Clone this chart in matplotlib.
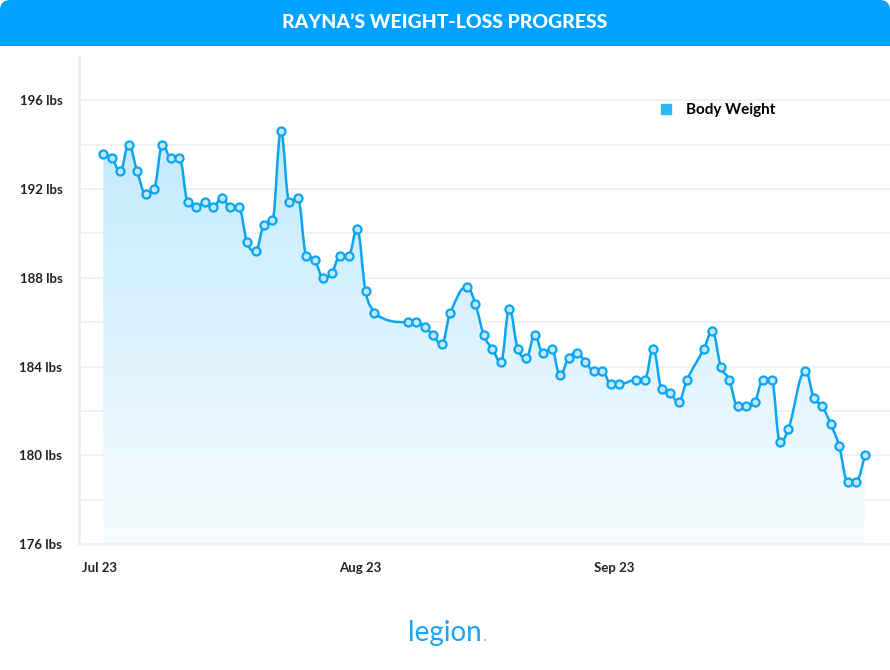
import numpy as np
import matplotlib.pyplot as plt
from matplotlib.path import Path
from matplotlib.patches import PathPatch, FancyBboxPatch, Rectangle
from matplotlib.lines import Line2D
from matplotlib.colors import to_rgba

# day index since first weigh-in, and the weight that day (lbs)
days = [0, 1, 2, 3, 4, 5, 6, 7, 8, 9, 10, 11, 12, 13, 14, 15, 16, 17, 18, 19,
        20, 21, 22, 23, 24, 25, 26, 27, 28, 29, 30, 31, 32,
        36, 37, 38, 39, 40, 41, 43, 44, 45, 46, 47, 48, 49, 50, 51, 52, 53,
        54, 55, 56, 57, 58, 59, 60, 61, 63, 64, 65, 66, 67, 68, 69, 71, 72,
        73, 74, 75, 76, 77, 78, 79, 80, 81, 83, 84, 85, 86, 87, 88, 89, 90]
weight = [193.6, 193.4, 192.8, 194.0, 192.8, 191.8, 192.0, 194.0, 193.4, 193.4,
          191.4, 191.2, 191.4, 191.2, 191.6, 191.2, 191.2, 189.6, 189.2, 190.4,
          190.6, 194.6, 191.4, 191.6, 189.0, 188.8, 188.0, 188.2, 189.0, 189.0,
          190.2, 187.4, 186.4,
          186.0, 186.0, 185.8, 185.4, 185.0, 186.4, 187.6, 186.8, 185.4, 184.8,
          184.2, 186.6, 184.8, 184.4, 185.4, 184.6, 184.8, 183.6, 184.4, 184.6,
          184.2, 183.8, 183.8, 183.2, 183.2, 183.4, 183.4, 184.8, 183.0, 182.8,
          182.4, 183.4, 184.8, 185.6, 184.0, 183.4, 182.2, 182.2, 182.4, 183.4,
          183.4, 180.6, 181.2, 183.8, 182.6, 182.2, 181.4, 180.4, 178.8, 178.8,
          180.0]

month_ticks = [-0.5, 30.4, 60.4]
month_labels = ['Jul 23', 'Aug 23', 'Sep 23']
y_labels = [176, 180, 184, 188, 192, 196]

BLUE = '#0aa4f2'
HEADER = '#00a2ff'


def spline_path(xs, ys, smoothing=1.5):
    # highcharts-style spline: cubic bezier through every point
    n = len(xs)
    lc = [(xs[i], ys[i]) for i in range(n)]
    rc = list(lc)
    den = smoothing + 1
    for i in range(1, n - 1):
        px, py = xs[i], ys[i]
        lx, ly = xs[i - 1], ys[i - 1]
        nx, ny = xs[i + 1], ys[i + 1]
        lcx = (smoothing * px + lx) / den
        lcy = (smoothing * py + ly) / den
        rcx = (smoothing * px + nx) / den
        rcy = (smoothing * py + ny) / den
        corr = (rcy - lcy) * (rcx - px) / (rcx - lcx) + py - rcy
        lcy += corr
        rcy += corr
        if lcy > ly and lcy > py:
            lcy = max(ly, py); rcy = 2 * py - lcy
        elif lcy < ly and lcy < py:
            lcy = min(ly, py); rcy = 2 * py - lcy
        if rcy > ny and rcy > py:
            rcy = max(ny, py); lcy = 2 * py - rcy
        elif rcy < ny and rcy < py:
            rcy = min(ny, py); lcy = 2 * py - rcy
        lc[i] = (lcx, lcy)
        rc[i] = (rcx, rcy)
    verts = [(xs[0], ys[0])]
    codes = [Path.MOVETO]
    for i in range(1, n):
        verts += [rc[i - 1], lc[i], (xs[i], ys[i])]
        codes += [Path.CURVE4] * 3
    return verts, codes


fig = plt.figure(figsize=(8.9, 6.7), dpi=100)

# header bar with rounded top corners
fig.patches.append(FancyBboxPatch((0, 6.7 - 0.46), 8.9, 0.46, boxstyle='round,pad=0,rounding_size=0.1',
                                  transform=fig.dpi_scale_trans, facecolor=HEADER, edgecolor='none'))
fig.patches.append(Rectangle((0, 6.7 - 0.46), 8.9, 0.2, transform=fig.dpi_scale_trans,
                             facecolor=HEADER, edgecolor='none'))
fig.text(0.5, 1 - 23 / 670, 'RAYNA\u2019S WEIGHT-LOSS PROGRESS', color='white', fontsize=14,
         fontweight='black', family='Lato', ha='center', va='center')

ax = fig.add_axes([79 / 890, 1 - 544 / 670, 811 / 890, 488 / 670])
ymin, ymax = 176, 198
xmin, xmax = -2.87, 93.0

verts, codes = spline_path(days, weight)

# gradient area under the line
area = PathPatch(Path(verts + [(days[-1], ymin), (days[0], ymin), (days[0], weight[0])],
                      codes + [Path.LINETO, Path.LINETO, Path.CLOSEPOLY]),
                 facecolor='none', edgecolor='none')
ax.add_patch(area)
top_c = np.array(to_rgba('#bfe9fd'))
bot_c = np.array(to_rgba('#f7fcff'))
t = np.linspace(0, 1, 256)[:, None]
grad = (bot_c * (1 - t) + top_c * t)[:, None, :]
img = ax.imshow(grad, extent=[xmin, xmax, ymin, 195.5], origin='lower', aspect='auto', zorder=1)
img.set_clip_path(area)

ax.add_patch(PathPatch(Path(verts, codes), facecolor='none', edgecolor=BLUE, lw=1.8, zorder=3))
ax.plot(days, weight, linestyle='none', marker='o', markersize=5.8, markeredgewidth=1.6,
        markeredgecolor=BLUE, markerfacecolor='#bfe8fc', zorder=4)

ax.set_xlim(xmin, xmax)
ax.set_ylim(ymin, ymax)

for g in range(178, 197, 2):
    ax.axhline(g, color='#efefef', lw=1.2, zorder=0)

ax.set_yticks(y_labels)
ax.set_yticklabels([f'{v} lbs' for v in y_labels])
ax.set_xticks(month_ticks)
ax.set_xticklabels(month_labels)
ax.tick_params(length=0, labelsize=9.5, labelcolor='#222222')
ax.tick_params(axis='y', pad=12)
ax.tick_params(axis='x', pad=13)
for lab in ax.get_xticklabels() + ax.get_yticklabels():
    lab.set_fontweight('bold')
    lab.set_family('Lato')

for s in ['top', 'right']:
    ax.spines[s].set_visible(False)
ax.spines['left'].set_color('#eeeeee')
ax.spines['left'].set_linewidth(2)
ax.spines['bottom'].set_color('#f0f2f4')
ax.spines['bottom'].set_linewidth(2)

handle = Line2D([], [], marker='s', color='#29b6f6', linestyle='none', markersize=7)
leg = ax.legend([handle], ['Body Weight'], loc='center left', bbox_to_anchor=(0.705, 0.889),
                frameon=False, handlelength=1.0, handletextpad=0.8, borderpad=0,
                prop={'family': 'Lato', 'weight': 'bold', 'size': 11})

fig.text(0.5, 1 - 633 / 670, 'legion', color='#17a6f2', fontsize=20, family='Lato',
         ha='center', va='center')
fig.text(0.5 + 37 / 890, 1 - 641 / 670, '.', color='#8fb9d6', fontsize=12, family='Lato',
         ha='left', va='baseline')

fig.savefig('out.png', dpi=100)
